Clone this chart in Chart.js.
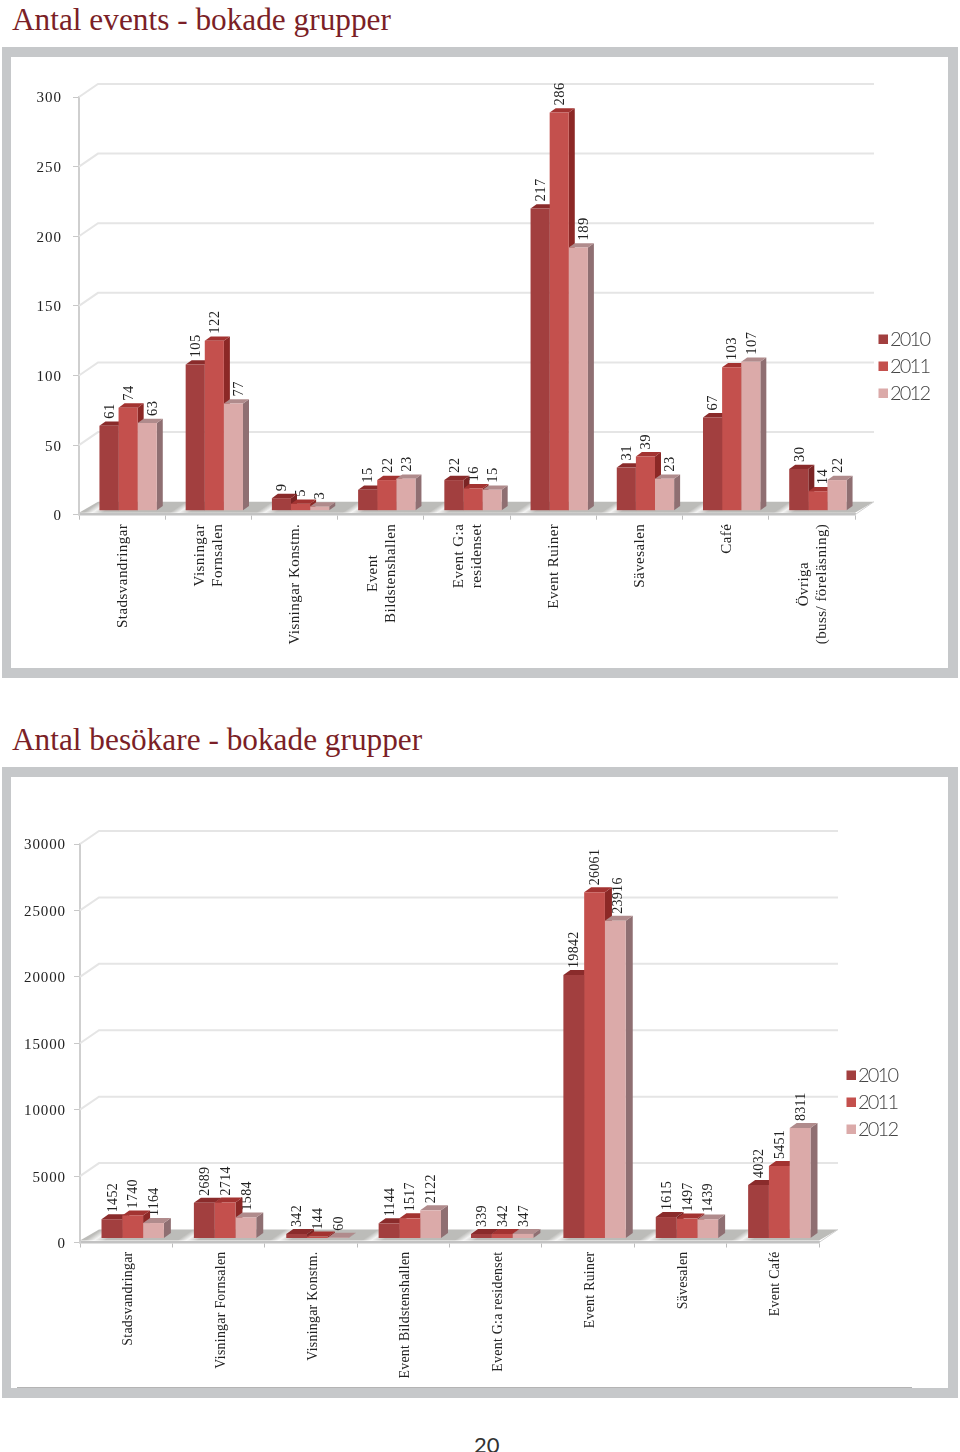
<!DOCTYPE html>
<html lang="sv">
<head>
<meta charset="utf-8">
<title>Antal events och besökare - bokade grupper</title>
<script src="https://cdn.jsdelivr.net/npm/chart.js@4"></script>
<style>
html,body{margin:0;padding:0;background:#fff;}
#page{position:relative;width:960px;height:1452px;overflow:hidden;background:#fff;}
.frame{position:absolute;left:2px;width:937px;background:#fff;border:10px solid #c6c8ca;border-left-width:9px;box-sizing:content-box;}
.title{position:absolute;left:12px;font:31.3px "Liberation Serif",serif;color:#7b1f27;white-space:nowrap;line-height:36px;}
canvas{position:absolute;left:0;}
#pageno{position:absolute;left:474px;top:1431px;font:22px "Lato",sans-serif;color:#333;}
#edge{position:absolute;left:17px;top:1387px;width:895px;height:1px;background:#b4b4b4;}
</style>
</head>
<body>
<div id="page">
  <div class="title" style="top:2px">Antal events - bokade grupper</div>
  <div class="frame" style="top:47px;height:611px"></div>
  <div class="title" style="top:722px">Antal besökare - bokade grupper</div>
  <div class="frame" style="top:767px;height:611px"></div>
  <div id="edge"></div>
  <canvas id="c1" style="top:0"></canvas>
  <canvas id="c2" style="top:760px"></canvas>
  <div id="pageno">20</div>
</div>
<script>
const seriesNames = ['2010', '2011', '2012'];

const eventCategories = ['Stadsvandringar', ['Visningar', 'Fornsalen'], 'Visningar Konstm.', ['Event', 'Bildstenshallen'], ['Event G:a', 'residenset'], 'Event Ruiner', 'Sävesalen', 'Café', ['Övriga', '(buss/ föreläsning)']];
const events2010 = [61, 105, 9, 15, 22, 217, 31, 67, 30];
const events2011 = [74, 122, 5, 22, 16, 286, 39, 103, 14];
const events2012 = [63, 77, 3, 23, 15, 189, 23, 107, 22];

const visitorCategories = ['Stadsvandringar', 'Visningar Fornsalen', 'Visningar Konstm.', 'Event Bildstenshallen', 'Event G:a residenset', 'Event Ruiner', 'Sävesalen', 'Event Café'];
const visitors2010 = [1452, 2689, 342, 1144, 339, 19842, 1615, 4032];
const visitors2011 = [1740, 2714, 144, 1517, 342, 26061, 1497, 5451];
const visitors2012 = [1164, 1584, 60, 2122, 347, 23916, 1439, 8311];

const frontColors = ['#a23f3f', '#c4504d', '#dbaaa9'];
const topColors = ['#8a2b2b', '#a33331', '#b08b8c'];
const sideColors = ['#7a2424', '#8c2826', '#8f6f72'];
const TEXT = '#222';
const SERIF = '"Liberation Serif",serif';

const scene3d = {
  id: 'scene3d',
  beforeDatasetsDraw(chart, args, o) {
    const {ctx, chartArea: a, scales: {x, y}} = chart;
    ctx.save();
    // value-axis labels
    ctx.fillStyle = TEXT;
    ctx.font = o.tickFont;
    ctx.letterSpacing = o.tickSpacing;
    ctx.textAlign = 'right';
    ctx.textBaseline = 'middle';
    y.ticks.forEach(t => ctx.fillText(String(t.value), a.left - o.tickPad, y.getPixelForValue(t.value) + 1.5));
    ctx.letterSpacing = '0px';
    // back wall gridlines
    ctx.strokeStyle = '#e5e5e5';
    ctx.lineWidth = 2;
    y.ticks.forEach(t => {
      if (t.value === 0) return;
      const py = y.getPixelForValue(t.value);
      ctx.beginPath();
      ctx.moveTo(a.left, py);
      ctx.lineTo(a.left + o.wallX, py - o.wallY);
      ctx.lineTo(a.right + o.wallX, py - o.wallY);
      ctx.stroke();
    });
    // floor with one diagonal sheen per category
    const y0 = y.getPixelForValue(0);
    const L = a.right - a.left;
    const k = o.wallY * L / (o.wallX * o.wallX + o.wallY * o.wallY);
    const g = ctx.createLinearGradient(a.left, y0, a.left + o.wallY * k, y0 + o.wallX * k);
    const n = x.ticks.length, w = 1 / n;
    for (let i = 0; i < n; i++) {
      g.addColorStop((i + 0.02) * w, '#bcbcb9');
      g.addColorStop((i + 0.12) * w, '#f4f4f3');
      g.addColorStop((i + 0.24) * w, '#bcbcb9');
    }
    g.addColorStop(1, '#bcbcb9');
    ctx.fillStyle = g;
    ctx.beginPath();
    ctx.moveTo(a.left, y0 - 2);
    ctx.lineTo(a.left + o.wallX, y0 - o.wallY);
    ctx.lineTo(a.right + o.wallX, y0 - o.wallY);
    ctx.lineTo(a.right, y0 - 2);
    ctx.closePath();
    ctx.fill();
    ctx.strokeStyle = '#d0d0d0';
    ctx.lineWidth = 1;
    ctx.beginPath();
    ctx.moveTo(a.right, y0);
    ctx.lineTo(a.right + o.wallX, y0 - o.wallY);
    ctx.stroke();
    // value labels sit behind the bars; a label clears a much taller left neighbour
    ctx.fillStyle = TEXT;
    ctx.font = o.valueFont;
    ctx.letterSpacing = o.valueSpacing;
    ctx.textAlign = 'left';
    ctx.textBaseline = 'middle';
    chart.data.datasets.forEach((ds, di) => {
      chart.getDatasetMeta(di).data.forEach((bar, i) => {
        const prev = di > 0 ? chart.data.datasets[di - 1].data[i] : 0;
        const nudge = prev - ds.data[i] >= o.nudgeOver ? o.nudge : 0;
        ctx.save();
        ctx.translate(bar.x + o.barX + 1 + nudge, bar.y + o.barY - 7);
        ctx.rotate(-Math.PI / 2);
        ctx.fillText(String(ds.data[i]), 0, 0);
        ctx.restore();
      });
    });
    ctx.letterSpacing = '0px';
    ctx.restore();
    // bars: tops and sides first, native fronts go on top of them
    ctx.save();
    ctx.translate(o.barX, o.barY);
    chart.data.datasets.forEach((ds, di) => {
      chart.getDatasetMeta(di).data.forEach(bar => {
        const hw = bar.width / 2, l = bar.x - hw, r = bar.x + hw, t = bar.y, b = bar.base;
        ctx.fillStyle = sideColors[di];
        ctx.beginPath();
        ctx.moveTo(r, t); ctx.lineTo(r + o.depthX, t - o.depthY);
        ctx.lineTo(r + o.depthX, b - o.depthY); ctx.lineTo(r, b);
        ctx.closePath(); ctx.fill();
        ctx.fillStyle = topColors[di];
        ctx.beginPath();
        ctx.moveTo(l, t); ctx.lineTo(l + o.depthX, t - o.depthY);
        ctx.lineTo(r + o.depthX, t - o.depthY); ctx.lineTo(r, t);
        ctx.closePath(); ctx.fill();
      });
    });
  },
  afterDatasetsDraw(chart, args, o) {
    const {ctx, scales: {x}, chartArea: a} = chart;
    ctx.restore();
    // category labels
    ctx.save();
    ctx.fillStyle = TEXT;
    ctx.font = o.labelFont;
    ctx.letterSpacing = o.labelSpacing;
    ctx.textAlign = 'center';
    ctx.textBaseline = 'middle';
    chart.data.labels.forEach((lab, i) => {
      const lines = [].concat(lab);
      const maxW = Math.max(...lines.map(s => ctx.measureText(s).width));
      const cx = x.getPixelForValue(i) + o.labelX;
      lines.forEach((s, li) => {
        ctx.save();
        ctx.translate(cx + (li - (lines.length - 1) / 2) * 18, a.bottom + o.labelGap + maxW / 2);
        ctx.rotate(-Math.PI / 2);
        ctx.fillText(s, 0, 0);
        ctx.restore();
      });
    });
    ctx.restore();
    // legend
    ctx.save();
    ctx.font = '300 20px Lato,sans-serif';
    ctx.letterSpacing = '-1.8px';
    ctx.textAlign = 'left';
    ctx.textBaseline = 'middle';
    chart.data.datasets.forEach((ds, i) => {
      const yy = o.legendY + i * 27;
      ctx.fillStyle = frontColors[i];
      ctx.fillRect(o.legendX, yy - 5, 9.5, 9.5);
      ctx.fillStyle = '#444';
      ctx.fillText(ds.label, o.legendX + 11.5, yy);
    });
    ctx.restore();
  }
};

function build(id, size, labels, seriesValues, maxV, step, o) {
  const cv = document.getElementById(id);
  cv.width = 960; cv.height = size.h;
  cv.style.width = '960px'; cv.style.height = size.h + 'px';
  return new Chart(cv, {
    type: 'bar',
    data: {
      labels,
      datasets: seriesValues.map((vals, i) => ({
        label: seriesNames[i], data: vals, backgroundColor: frontColors[i],
        borderWidth: 0, clip: false,
        categoryPercentage: o.catPct, barPercentage: 1
      }))
    },
    options: {
      responsive: false, animation: false,
      layout: {padding: {top: size.top, right: 960 - size.right, left: 0, bottom: 0}},
      scales: {
        x: {
          afterFit(s) { s.height = size.h - size.bottom; },
          grid: {drawOnChartArea: false, drawTicks: true, tickLength: 5, color: '#bdbdbd', offset: true},
          border: {color: '#c2c2c2', width: 2.5},
          ticks: {display: false}
        },
        y: {
          min: 0, max: maxV,
          afterFit(s) { s.width = size.left; },
          grid: {drawOnChartArea: false, drawTicks: true, tickLength: 6, color: '#c8c8c8'},
          border: {color: '#cfcfcf', width: 2},
          ticks: {stepSize: step, display: false}
        }
      },
      plugins: {
        legend: {display: false},
        tooltip: {enabled: false},
        scene3d: o
      }
    },
    plugins: [scene3d]
  });
}

build('c1', {h: 680, top: 97, bottom: 514.7, left: 79, right: 855},
  eventCategories, [events2010, events2011, events2012], 300, 50,
  {catPct: 0.665, tickPad: 17, tickFont: '15px ' + SERIF, tickSpacing: '1px', wallX: 19, wallY: 13, barX: 6, barY: -4, depthX: 6, depthY: 4.3,
   valueFont: '14.5px ' + SERIF, valueSpacing: '0.5px', nudgeOver: 10, nudge: 4.5,
   labelFont: '15px ' + SERIF, labelSpacing: '0.45px', labelGap: 9, labelX: 1,
   legendX: 878.5, legendY: 339.5});

build('c2', {h: 640, top: 84, bottom: 482.5, left: 80, right: 819},
  visitorCategories, [visitors2010, visitors2011, visitors2012], 30000, 5000,
  {catPct: 0.675, tickPad: 14, tickFont: '15px ' + SERIF, tickSpacing: '0.9px', wallX: 19, wallY: 13, barX: 6.5, barY: -4, depthX: 7, depthY: 5,
   valueFont: '14px ' + SERIF, valueSpacing: '0.3px', nudgeOver: 2000, nudge: 2,
   labelFont: '13.8px ' + SERIF, labelSpacing: '0.3px', labelGap: 9, labelX: 2.5,
   legendX: 846.5, legendY: 315.5});
</script>
</body>
</html>
